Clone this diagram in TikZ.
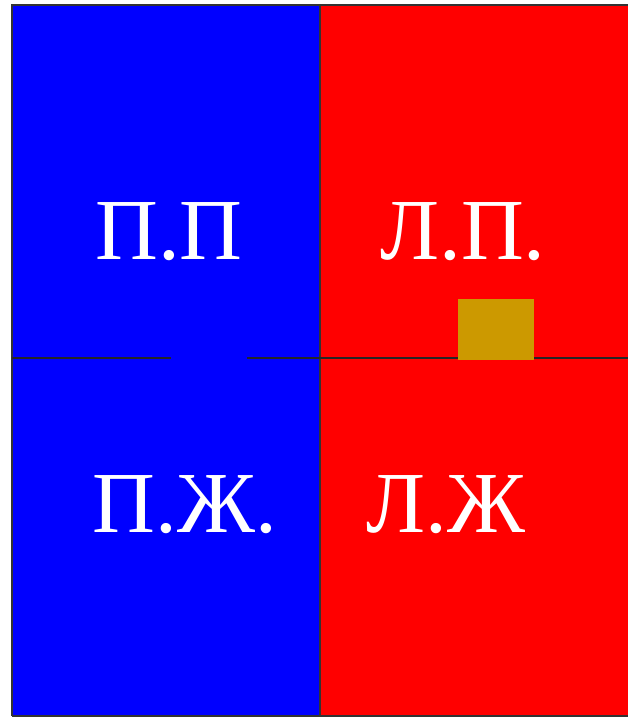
\documentclass[tikz,border=0pt]{standalone}
\usepackage{fontspec}
\setmainfont{Liberation Serif}
\definecolor{leftblue}{RGB}{0,0,255}
\definecolor{rightred}{RGB}{255,0,0}
\definecolor{goldbox}{RGB}{204,153,0}
\tikzset{
  field/.style   ={draw=black!80, line width=1.4pt},
  midline/.style ={draw=black!85, line width=2pt},
  tag/.style     ={text=white, font=\fontsize{87}{87}\selectfont, inner sep=0pt},
}
\begin{document}
\begin{tikzpicture}[x=1pt, y=-1pt]
  \useasboundingbox (0,0) rectangle (628,718);
  \fill[white] (0,0) rectangle (628,718);

  % two halves
  \fill[rightred] (320,5) rectangle (628,716);
  \fill[leftblue] (12,5) rectangle (320,716);
  \draw[field] (12,716) -- (12,5) -- (628,5);
  \draw[field] (12,716) -- (628,716);
  \draw[field] (320,5) -- (320,716);

  % middle line, broken in the blue half
  \draw[midline] (12,357.5) -- (171,357.5);
  \draw[midline] (247,357.5) -- (628,357.5);

  % small square
  \fill[goldbox] (458,299) rectangle (534,359.5);

  % labels
  \node[tag] (pp) at (169,232) {П.П};
  \node[tag] (lp) at (463,232) {Л.П.};
  \node[tag] (pz) at (185,505) {П.Ж.};
  \node[tag] (lz) at (446,505) {Л.Ж};
\end{tikzpicture}
\end{document}
